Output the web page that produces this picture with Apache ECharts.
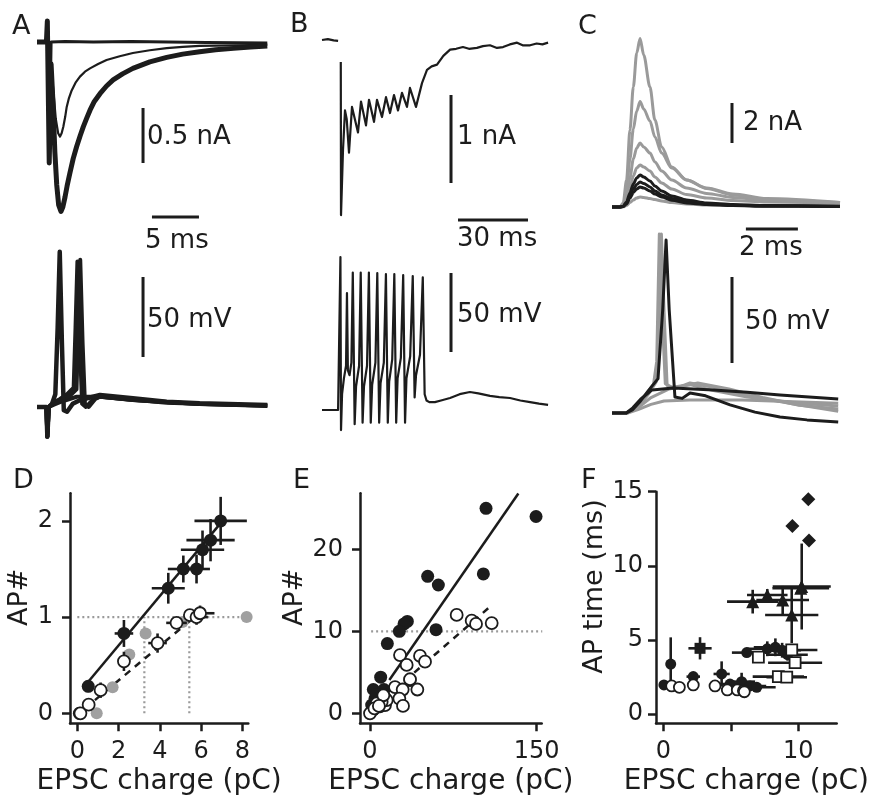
<!DOCTYPE html>
<html><head><meta charset="utf-8">
<script src="https://cdn.jsdelivr.net/npm/echarts@6/dist/echarts.min.js"></script>
<style>html,body{margin:0;padding:0;background:#fff}#c{width:886px;height:801px}</style>
</head><body><div id="c"></div>
<script>
// ---------------- DATA ----------------
// Panel A: EPSC currents (t in ms, I in nA)
const A_I_fail  = [[0,0],[1.0,0],[1.1,0.19],[1.3,-1.1],[1.5,0],[3,0.005],[6,0],[10,0.005],[14,0],[18,-0.005],[24.5,-0.01]];
const A_I_thin  = [[0,0],[1.0,0],[1.1,0.19],[1.3,-1.1],[1.5,-0.2],[1.75,-0.45],[2.0,-0.7],[2.25,-0.83],[2.45,-0.86],[2.62,-0.83],[2.8,-0.77],[3.0,-0.68],[3.16,-0.59],[3.4,-0.51],[3.69,-0.44],[4.1,-0.37],[4.57,-0.315],[5.1,-0.27],[5.64,-0.24],[6.5,-0.2],[7.4,-0.164],[8.8,-0.13],[10.2,-0.10],[12,-0.075],[13.8,-0.055],[15.5,-0.045],[17.3,-0.036],[20.9,-0.03],[24.5,-0.027]];
const A_I_thick = [[0,0],[1.0,0],[1.1,0.19],[1.3,-1.1],[1.5,-0.2],[1.7,-0.55],[1.9,-1.0],[2.1,-1.3],[2.3,-1.48],[2.55,-1.54],[2.75,-1.5],[2.98,-1.41],[3.2,-1.31],[3.5,-1.19],[3.85,-1.06],[4.22,-0.95],[4.6,-0.85],[4.93,-0.77],[5.3,-0.69],[5.64,-0.62],[6.1,-0.54],[6.7,-0.47],[7.4,-0.4],[8.1,-0.345],[9.1,-0.29],[10.2,-0.24],[11.1,-0.21],[12.0,-0.18],[13.8,-0.14],[15.5,-0.11],[17.3,-0.088],[19,-0.07],[20.9,-0.058],[22.7,-0.045],[24.5,-0.036]];
// Panel A: voltage (mV)
const A_V_spike1 = [[0,0],[1.0,0],[1.1,-18.5],[1.25,0],[1.6,2],[1.95,8],[2.2,50],[2.42,97],[2.65,40],[2.85,-2],[3.2,-3],[3.8,2],[4.6,4.4],[6.7,7.5],[10.2,5.4],[13.8,3.3],[17.3,2.3],[24.5,1.2]];
const A_V_spike2a = [[0,0],[1.0,0],[1.1,-18.5],[1.25,0],[1.8,3],[2.45,5],[3.2,8],[3.9,12],[4.1,50],[4.3,91],[4.55,40],[4.8,2],[5.2,0],[6.0,5],[6.7,6.5],[10.2,4.4],[17.3,1.9],[24.5,1.0]];
const A_V_spike2b = [[0,0],[1.0,0],[1.1,-18.5],[1.25,0],[1.8,2],[2.45,4],[3.5,7],[4.2,11],[4.45,60],[4.6,92],[4.85,40],[5.1,2],[5.5,0],[6.2,5],[6.7,6.4],[10.2,4.4],[17.3,1.9],[24.5,1.0]];
const A_V_sub = [[0,0],[1.0,0],[1.1,-18.5],[1.25,0],[1.8,1.5],[2.45,3.1],[4.22,6.4],[6.7,6.4],[13.8,2.7],[24.5,0.6]];
// Panel B: train currents (ms, nA)
const B_I_pre = [[0,0],[2.5,0.01],[5,-0.005],[6.9,-0.01]];
const B_I = [[8.05,-0.25],[8.15,-1.99],[9.0,-1.25],[9.86,-0.80],[10.6,-0.9],[11.57,-1.28],[12.86,-0.76],[15.43,-1.05],[16.71,-0.70],[18.86,-0.97],[20.14,-0.68],[22.29,-0.93],[23.57,-0.68],[25.71,-0.875],[27.43,-0.65],[29.14,-0.83],[30.86,-0.625],[32.57,-0.80],[34.29,-0.60],[36.43,-0.76],[37.71,-0.545],[40.29,-0.76],[42.86,-0.49],[45.0,-0.34],[47,-0.3],[49.3,-0.28],[52,-0.18],[54.9,-0.11],[57.5,-0.1],[60.4,-0.08],[63,-0.1],[66.4,-0.09],[69,-0.07],[72.0,-0.06],[75,-0.09],[77.6,-0.08],[80.5,-0.05],[83.6,-0.03],[86,-0.06],[89.2,-0.06],[92,-0.04],[94.5,-0.05],[96.9,-0.03]];
// Panel B: voltage (ms, mV)
const B_V = [[0,0],[6.9,0],[7.7,0],[7.9,96.8],[8.15,-12.7],[8.6,10],[9.4,20],[10.3,28],[10.7,74],[11.1,25],[11.8,22],[12.6,30],[13.2,87],[14.0,-9],[14.6,15],[15.9,28],[16.6,87],[17.4,-8],[18.0,15],[19.3,28],[20.1,87],[20.9,-8],[21.5,16],[22.9,30],[23.7,86.7],[24.5,-8],[25.1,17],[26.5,30],[27.4,86],[28.2,-8],[28.8,18],[30.1,32],[31.0,86],[31.8,-8],[32.4,20],[33.8,33],[34.8,85.4],[35.6,-8],[36.2,20],[37.8,34],[38.9,84.8],[39.7,8],[40.3,22],[42.0,35],[43.2,84],[44.0,10],[44.8,6],[46,5],[48.4,5],[51,6],[54.9,7.6],[59,10],[63.4,11.4],[67,10.5],[72.0,8.9],[76,8.2],[80.6,7.6],[85,6],[89.2,5],[93,4],[96.9,3.2]];
// Panel C: currents (ms, nA)
const C_I_gray1 = [[0,0],[0.3,0],[0.43,0.2],[0.56,1.35],[0.69,3.85],[0.82,6.0],[0.95,7.7],[1.08,8.43],[1.22,7.6],[1.46,6.0],[1.65,4.35],[1.91,3.0],[2.3,2.0],[2.87,1.35],[3.64,0.93],[4.65,0.6],[5.95,0.35],[8.77,0.22]];
const C_I_gray2 = [[0,0],[0.3,0],[0.43,0.12],[0.56,0.8],[0.69,2.4],[0.82,3.9],[0.95,4.8],[1.08,5.27],[1.22,4.9],[1.46,4.3],[1.65,3.5],[1.91,2.7],[2.3,1.95],[2.87,1.35],[3.64,0.95],[4.65,0.65],[5.95,0.42],[8.77,0.22]];
const C_I_gray3 = [[0,0],[0.3,0],[0.43,0.08],[0.56,0.5],[0.69,1.45],[0.82,2.4],[0.95,2.95],[1.08,3.2],[1.22,3.0],[1.46,2.7],[1.65,2.25],[1.91,1.8],[2.3,1.35],[2.87,0.95],[3.64,0.68],[4.65,0.48],[5.95,0.33],[8.77,0.2]];
const C_I_gray4 = [[0,0],[0.3,0],[0.43,0.05],[0.56,0.3],[0.69,0.95],[0.82,1.55],[0.95,1.95],[1.08,2.1],[1.22,2.0],[1.46,1.8],[1.65,1.5],[1.91,1.2],[2.3,0.9],[2.87,0.62],[3.64,0.45],[4.65,0.33],[5.95,0.25],[8.77,0.18]];
const C_I_gray5 = [[0,0],[0.3,0],[0.43,0.01],[0.56,0.08],[0.69,0.22],[0.82,0.35],[0.95,0.45],[1.08,0.5],[1.22,0.48],[1.46,0.42],[1.65,0.37],[1.91,0.3],[2.3,0.22],[2.87,0.15],[3.64,0.1],[4.65,0.08],[5.95,0.06],[8.77,0.05]];
const C_I_black1 = [[0,0],[0.3,0],[0.43,0.04],[0.56,0.25],[0.69,0.7],[0.82,1.15],[0.95,1.45],[1.08,1.6],[1.22,1.5],[1.46,1.3],[1.65,1.05],[1.91,0.8],[2.3,0.55],[2.87,0.35],[3.64,0.2],[4.65,0.12],[5.95,0.07],[8.77,0.04]];
const C_I_black2 = [[0,0],[0.3,0],[0.43,0.03],[0.56,0.2],[0.69,0.55],[0.82,0.9],[0.95,1.12],[1.08,1.25],[1.22,1.18],[1.46,1.0],[1.65,0.8],[1.91,0.6],[2.3,0.42],[2.87,0.26],[3.64,0.15],[4.65,0.09],[5.95,0.05],[8.77,0.03]];
const C_I_black3 = [[0,0],[0.3,0],[0.43,0.03],[0.56,0.15],[0.69,0.45],[0.82,0.72],[0.95,0.9],[1.08,1.0],[1.22,0.95],[1.46,0.8],[1.65,0.65],[1.91,0.5],[2.3,0.34],[2.87,0.2],[3.64,0.12],[4.65,0.07],[5.95,0.04],[8.77,0.02]];
// Panel C: voltages (ms, mV)
const C_V_graySpikeA = [[0,0],[0.55,0],[0.8,2],[1.1,6],[1.35,11.6],[1.6,17],[1.72,30],[1.82,104],[1.95,50],[2.05,17],[2.3,15],[3.0,16.5],[3.9,13],[5.2,9.3],[7.1,5.8],[8.7,4]];
const C_V_graySpikeB = [[0,0],[0.55,0],[0.8,2],[1.1,5],[1.4,11],[1.7,18],[1.8,40],[1.9,104],[2.0,60],[2.12,16],[2.4,14],[3.0,17.5],[3.9,15],[5.2,10],[7.1,5],[8.7,1]];
const C_V_graySub1 = [[0,0],[0.6,0],[1.0,2],[1.5,5],[2.0,7],[3.0,7.6],[5,7.6],[7,6.6],[8.7,5.6]];
const C_V_graySub2 = [[0,0],[0.6,0],[1.0,3],[1.5,9],[2.2,14],[3.3,17.4],[4.5,14],[5.8,9],[7.2,4.5],[8.7,2.3]];
const C_V_blackSpike = [[0,0],[0.55,0],[0.8,2],[1.1,7],[1.4,13],[1.77,20],[1.95,60],[2.08,100.6],[2.2,60],[2.42,9.3],[2.7,8.5],[3.0,11.6],[3.6,10],[4.54,4.7],[5.5,0.5],[6.46,-2.3],[7.5,-4],[8.7,-5.2]];
const C_V_blackSub = [[0,0],[0.55,0],[0.8,3],[1.1,8],[1.54,13.4],[2.35,14.5],[3.9,13.4],[5.2,12],[6.46,10.5],[8.7,8.1]];
// Scale bars (data units)
const scaleA_amp = [[11.28,-0.6],[11.28,-1.1]];     // 0.5 nA
const scaleA_time = [[12.23,-1.59],[17.23,-1.59]];  // 5 ms
const scaleA_mV = [[11.28,81.25],[11.28,31.25]];    // 50 mV
const scaleB_amp = [[55.3,-0.625],[55.3,-1.625]];   // 1 nA
const scaleB_time = [[58.3,-2.045],[88.3,-2.045]];  // 30 ms
const scaleB_mV = [[55.3,86.7],[55.3,36.7]];        // 50 mV
const scaleC_amp = [[4.615,5.2],[4.615,3.2]];       // 2 nA
const scaleC_time = [[5.15,-1.1],[7.15,-1.1]];      // 2 ms
const scaleC_mV = [[4.615,79],[4.615,29]];          // 50 mV

// Panel D: [charge, AP#, xErr, yErr]
const D_filled = [[0.1,0,0.05,0],[0.53,0.28,0.12,0.06],[2.26,0.83,0.45,0.14],[4.41,1.30,0.8,0.16],[5.14,1.50,0.75,0.14],[5.78,1.50,0.65,0.15],[6.07,1.70,1.05,0.20],[6.46,1.80,1.17,0.22],[6.95,2.00,1.27,0.25]];
const D_open = [[0.15,0,0.05,0.02],[0.55,0.09,0.1,0.03],[1.13,0.24,0.3,0.08],[2.26,0.54,0.25,0.1],[3.89,0.73,0.45,0.1],[4.81,0.94,0.5,0.06],[5.46,1.02,0.3,0.04],[5.78,1.00,0.55,0.08],[5.95,1.04,0.7,0.08]];
const D_gray = [[0.94,0],[1.71,0.27],[2.52,0.61],[3.31,0.83],[5.1,0.95],[8.21,1.0]];
const D_fitSolid = [[0.5,0.32],[7.0,1.99]];
const D_fitDashed = [[0.37,0.05],[5.95,1.05]];
const D_guideH = [[0,1],[8.25,1]];
const D_guideV1 = [[3.25,0],[3.25,1]];
const D_guideV2 = [[5.43,0],[5.43,1]];
const D_xTicks = [0,2,4,6,8], D_yTicks = [0,1,2];

// Panel E: [charge, AP#]
const E_filled = [[104.4,25.0],[149.4,24.0],[102,17.0],[51.9,16.7],[61.5,15.65],[33.6,11.2],[30.6,10.9],[26.4,10.0],[59.4,10.2],[15.6,8.5],[9.6,4.4],[36,4.0],[3.0,2.9],[12.6,2.9],[4.5,1.8],[7.5,1.4],[1.5,1.0],[3,0.4],[9,0.8],[12,2.0],[6,2.3]];
const E_open = [[0,0],[78,12.0],[91.5,11.3],[95.4,10.9],[109.5,11.0],[27,7.1],[45,7.0],[33,5.9],[49.5,6.3],[36,4.15],[22.5,3.2],[29.4,2.9],[42.6,2.9],[26.4,1.8],[29.7,0.9],[13.5,1.0],[15,1.6],[10.5,1.4],[6,1.2],[4,0.6],[12,2.2],[8,0.9]];
const E_fitSolid = [[17.4,4.07],[133.5,26.8]];
const E_fitDashed = [[4.5,0.8],[108,13.0]];
const E_guideH = [[1,10],[155,10]];
const E_xTicks = [0,150], E_yTicks = [0,10,20];

// Panel F: [charge, AP time, xErr, yErr]
const F_diamond = [[10.74,14.49],[9.56,12.69],[10.79,11.7]];
const F_triangle = [[10.25,8.6,2.15,2.9],[10.18,8.48,2.1,0],[9.51,6.68,1.97,1.9],[8.84,7.69,1.95,0.95],[7.7,8.03,1.5,0.4],[6.62,7.58,1.9,0.8]];
const F_filledCircle = [[0.55,3.37,0.15,1.8],[0.05,1.96,0.2,0.1],[2.22,2.52,0.5,0.3],[4.32,2.7,0.6,0.85],[6.18,4.14,1.1,0.3],[7.7,4.4,1.5,0.5],[8.3,4.5,1.6,0.6],[8.8,4.3,1.4,0.5],[9.2,4.0,1.5,0.4],[4.94,2.02,0.8,0.3],[5.8,2.18,1.0,0.6],[6.42,1.89,1.2,0.3],[6.92,1.8,1.4,0.2]];
const F_filledSquare = [[2.72,4.43,0.86,0.75]];
const F_openCircle = [[0.62,1.89],[1.19,1.8],[2.22,1.96],[3.83,1.89],[4.74,1.62],[5.48,1.62],[5.93,1.57],[6.0,1.5]];
const F_openSquare = [[7.04,3.83,0,0],[9.51,4.32,1.9,0],[9.76,3.46,2.0,0],[8.52,2.52,1.9,0],[9.14,2.48,1.5,0]];
const F_xTicks = [0,5,10], F_xLabels = [0,10], F_yTicks = [0,5,10,15];

// ---------------- BUILD ----------------
const BLACK = '#1c1c1c', GRAY = '#9a9a9a', FONT = 'DejaVu Sans';
const grids = [], xAxes = [], yAxes = [], series = [], texts = [];

function tracePanel(l, t, r, b, x0, y0, sx, sy) {
  const gi = grids.length;
  grids.push({left: l, top: t, width: r - l, height: b - t});
  xAxes.push({gridIndex: gi, type: 'value', show: false, min: (l - x0) / sx, max: (r - x0) / sx});
  yAxes.push({gridIndex: gi, type: 'value', show: false, min: (y0 - b) / sy, max: (y0 - t) / sy});
  return gi;
}
function line(gi, data, color, width, extra) {
  return Object.assign({type: 'line', xAxisIndex: gi, yAxisIndex: gi, data: data, symbol: 'none', showSymbol: false,
    silent: true, lineStyle: {color: color, width: width, join: 'round'}, z: 2}, extra || {});
}
function label(x, y, s, size) {
  texts.push({type: 'text', x: x, y: y, silent: true,
    style: {text: s, fontSize: size || 26, fontFamily: FONT, fill: BLACK, verticalAlign: 'middle', align: 'left'}});
}
const sm = {smooth: 0.3, smoothMonotone: 'x'};

// A
const gAI = tracePanel(30, 5, 280, 230, 37, 42, 9.4, 110);
series.push(line(gAI, A_I_fail, BLACK, 3));
series.push(line(gAI, A_I_thin, BLACK, 2.2));
series.push(line(gAI, A_I_thick, BLACK, 5));
series.push(line(gAI, scaleA_amp, BLACK, 3));
series.push(line(gAI, scaleA_time, BLACK, 3));
const gAV = tracePanel(30, 240, 280, 445, 37, 407, 9.4, 1.6);
series.push(line(gAV, A_V_sub, BLACK, 4));
series.push(line(gAV, A_V_spike2a, BLACK, 4));
series.push(line(gAV, A_V_spike2b, BLACK, 4));
series.push(line(gAV, A_V_spike1, BLACK, 4.5));
series.push(line(gAV, scaleA_mV, BLACK, 3));
label(147, 137, '0.5 nA'); label(145, 241, '5 ms'); label(147, 320, '50 mV');

// B
const gBI = tracePanel(315, 5, 560, 230, 322, 40, 2.333, 88);
series.push(line(gBI, B_I_pre, BLACK, 2.2));
series.push(line(gBI, B_I, BLACK, 2.2));
series.push(line(gBI, scaleB_amp, BLACK, 3));
series.push(line(gBI, scaleB_time, BLACK, 3));
const gBV = tracePanel(315, 240, 560, 445, 322, 410, 2.333, 1.58);
series.push(line(gBV, B_V, BLACK, 2.2));
series.push(line(gBV, scaleB_mV, BLACK, 3));
label(457, 137, '1 nA'); label(457, 239, '30 ms'); label(457, 315, '50 mV');

// C
const gCI = tracePanel(605, 5, 850, 236, 612, 207, 26, 20);
[C_I_gray5, C_I_gray4, C_I_gray3, C_I_gray2, C_I_gray1].forEach(d => series.push(line(gCI, d, GRAY, 3, sm)));
[C_I_black3, C_I_black2, C_I_black1].forEach(d => series.push(line(gCI, d, BLACK, 3, sm)));
series.push(line(gCI, scaleC_amp, BLACK, 3));
series.push(line(gCI, scaleC_time, BLACK, 3));
const gCV = tracePanel(605, 225, 850, 445, 612, 413, 26, 1.72);
[C_V_graySub1, C_V_graySub2, C_V_graySpikeB, C_V_graySpikeA].forEach(d => series.push(line(gCV, d, GRAY, 3)));
[C_V_blackSub, C_V_blackSpike].forEach(d => series.push(line(gCV, d, BLACK, 3)));
series.push(line(gCV, scaleC_mV, BLACK, 3));
label(743, 123, '2 nA'); label(739, 248, '2 ms'); label(745, 322, '50 mV');

// Scatter panels
function scatterPanel(o) {
  const gi = grids.length;
  grids.push({left: o.l, top: o.t, width: o.r - o.l, height: o.b - o.t});
  const axLine = {show: true, onZero: false, lineStyle: {color: BLACK, width: 2.5}};
  const tick = {show: true, inside: false, length: 8, lineStyle: {color: BLACK, width: 2.5}};
  xAxes.push({gridIndex: gi, type: 'value', position: 'bottom', min: o.xr[0], max: o.xr[1],
    axisLine: axLine, splitLine: {show: false},
    axisTick: Object.assign({customValues: o.xTicks}, tick),
    axisLabel: {customValues: o.xLabels || o.xTicks, margin: 16, fontSize: 24, fontFamily: FONT, color: BLACK},
    name: 'EPSC charge (pC)', nameLocation: 'middle', nameGap: 44,
    nameTextStyle: {fontSize: 28, fontFamily: FONT, color: BLACK}});
  yAxes.push({gridIndex: gi, type: 'value', position: 'left', min: o.yr[0], max: o.yr[1],
    axisLine: axLine, splitLine: {show: false},
    axisTick: Object.assign({customValues: o.yTicks}, tick),
    axisLabel: {customValues: o.yTicks, margin: o.ym, fontSize: 24, fontFamily: FONT, color: BLACK},
    name: o.yName, nameLocation: 'middle', nameGap: o.yGap,
    nameTextStyle: {fontSize: 27, fontFamily: FONT, color: BLACK, padding: [0, 0, 0, o.yPad]}});
  return gi;
}
function errBars(gi, data, color) {
  return {type: 'custom', coordinateSystem: 'cartesian2d', xAxisIndex: gi, yAxisIndex: gi, data: data, silent: true, z: 3,
    encode: {x: 0, y: 1},
    renderItem: function (params, api) {
      const x = api.value(0), y = api.value(1), ex = api.value(2), ey = api.value(3);
      const ch = [];
      if (ex > 0) { const a = api.coord([x - ex, y]), b = api.coord([x + ex, y]);
        ch.push({type: 'line', shape: {x1: a[0], y1: a[1], x2: b[0], y2: b[1]}, style: {stroke: color, lineWidth: 2.6}}); }
      if (ey > 0) { const a = api.coord([x, y - ey]), b = api.coord([x, y + ey]);
        ch.push({type: 'line', shape: {x1: a[0], y1: a[1], x2: b[0], y2: b[1]}, style: {stroke: color, lineWidth: 2.6}}); }
      return {type: 'group', children: ch};
    }};
}
function pts(gi, data, symbol, size, fill, border, z) {
  return {type: 'scatter', xAxisIndex: gi, yAxisIndex: gi, data: data.map(d => [d[0], d[1]]), symbol: symbol, symbolSize: size,
    silent: true, z: z || 4, itemStyle: {color: fill, borderColor: border || fill, borderWidth: border ? 1.8 : 0, opacity: 1}};
}
const dotted = {lineStyle: {color: GRAY, width: 2.2, type: [2, 3]}, z: 1};

// D
const gD = scatterPanel({l: 70, t: 493.3, r: 248.3, b: 723.3, xr: [-0.355, 8.29], yr: [-0.104, 2.287],
  xTicks: D_xTicks, yTicks: D_yTicks, ym: 17, yName: 'AP#', yGap: 31, yPad: 22});
series.push(line(gD, D_guideH, GRAY, 2.2, dotted));
series.push(line(gD, D_guideV1, GRAY, 2.2, dotted));
series.push(line(gD, D_guideV2, GRAY, 2.2, dotted));
series.push(pts(gD, D_gray, 'circle', 12, '#a0a0a0', null, 2));
series.push(line(gD, D_fitSolid, BLACK, 2.5));
series.push(line(gD, D_fitDashed, BLACK, 2.5, {lineStyle: {color: BLACK, width: 2.5, type: [7, 6]}}));
series.push(errBars(gD, D_filled, BLACK));
series.push(errBars(gD, D_open, BLACK));
series.push(pts(gD, D_filled, 'circle', 13, BLACK));
series.push(pts(gD, D_open, 'circle', 12, '#ffffff', BLACK, 5));

// E
const gE = scatterPanel({l: 360, t: 493.3, r: 541.7, b: 723.3, xr: [-9.0, 154.5], yr: [-1.22, 26.83],
  xTicks: E_xTicks, yTicks: E_yTicks, ym: 17, yName: 'AP#', yGap: 42, yPad: 22});
series.push(line(gE, E_guideH, GRAY, 2.2, dotted));
series.push(line(gE, E_fitSolid, BLACK, 2.5));
series.push(line(gE, E_fitDashed, BLACK, 2.5, {lineStyle: {color: BLACK, width: 2.5, type: [7, 6]}}));
series.push(pts(gE, E_filled, 'circle', 13, BLACK));
series.push(pts(gE, E_open, 'circle', 12, '#ffffff', BLACK, 5));

// F
const gF = scatterPanel({l: 656, t: 491.7, r: 836.7, b: 723.3, xr: [-0.54, 12.84], yr: [-0.63, 15.0],
  xTicks: F_xTicks, xLabels: F_xLabels, yTicks: F_yTicks, ym: 13, yName: 'AP time (ms)', yGap: 45, yPad: 42});
series.push(errBars(gF, F_triangle, BLACK));
series.push(errBars(gF, F_filledCircle, BLACK));
series.push(errBars(gF, F_filledSquare, BLACK));
series.push(errBars(gF, F_openSquare, BLACK));
series.push(pts(gF, F_diamond, 'diamond', 14, BLACK));
series.push(pts(gF, F_triangle, 'triangle', 13, BLACK));
series.push(pts(gF, F_filledCircle, 'circle', 11, BLACK));
series.push(pts(gF, F_filledSquare, 'rect', 11, BLACK));
series.push(pts(gF, F_openCircle, 'circle', 11, '#ffffff', BLACK, 5));
series.push(pts(gF, F_openSquare, 'rect', 11, '#ffffff', BLACK, 5));

// panel letters
[['A', 12, 27], ['B', 290, 25], ['C', 578, 27], ['D', 13, 481], ['E', 293, 481], ['F', 581, 481]]
  .forEach(p => label(p[1], p[2], p[0], 27));

const chart = echarts.init(document.getElementById('c'), null, {renderer: 'canvas'});
chart.setOption({
  animation: false,
  backgroundColor: '#ffffff',
  textStyle: {fontFamily: FONT},
  grid: grids, xAxis: xAxes, yAxis: yAxes, series: series,
  graphic: {elements: texts}
});
</script></body></html>
